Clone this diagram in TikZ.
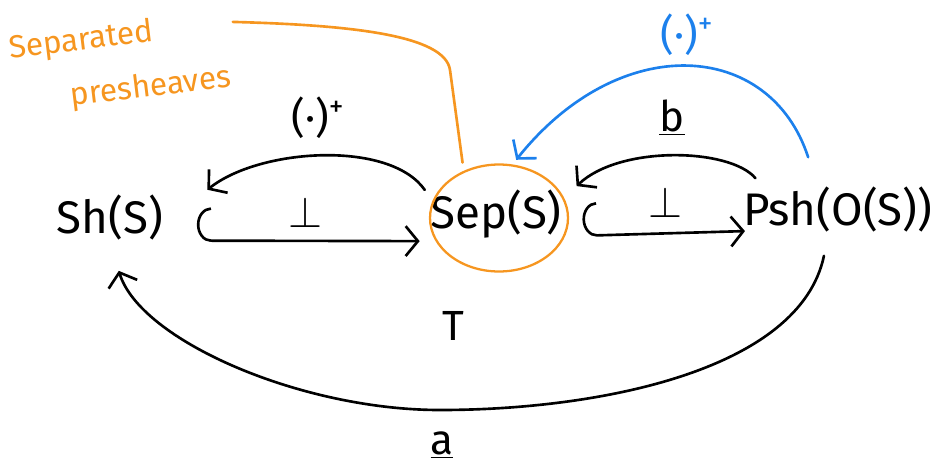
\documentclass[tikz,border=0pt]{standalone}
\usepackage{fontspec}
\setmainfont{Fira Sans}
\usetikzlibrary{arrows.meta,shapes.geometric}
\definecolor{penorange}{RGB}{246,150,32}
\definecolor{penblue}{RGB}{28,128,236}

\begin{document}
\begin{tikzpicture}[x=0.02cm, y=-0.02cm, >={Straight Barb[length=7pt,width=17pt]}, line cap=round, line join=round,
    pen/.style={line width=1.5pt},
    obj/.style={font=\fontsize{26}{30}\selectfont, inner sep=5pt},
    lab/.style={font=\fontsize{24}{28}\selectfont, inner sep=1pt},
    note/.style={font=\fontsize{18}{31}\selectfont, text=penorange, align=left, rotate=7, inner sep=2pt},
    ring/.style={ellipse, draw=penorange, line width=1.3pt, minimum width=2.76cm, minimum height=2.14cm, inner sep=0pt},
    hook/.style={pen, {Hooks[right,length=8pt,width=38pt]}->}]
    \useasboundingbox (0,0) rectangle (945,470);
    \node[obj] (sh) at (110,218) {Sh(S)};
    \node[obj] (sep) at (496,214) {Sep(S)};
    \node[obj] (psh) at (838,210) {Psh(O(S))};
    \node[ring] (sepring) at (499,218) {};
    \node[note] (sepnote) at (120,64) {Separated\\\hspace{1.1cm}presheaves};
    \node[lab] (plusl) at (318,118) {(·)\textsuperscript{+}};
    \node[lab] (perpl) at (305,212) {$\perp$};
    \node[lab] (perpr) at (665,202) {$\perp$};
    \node[lab] (bl) at (672,118) {\underline{b}};
    \node[lab, text=penblue] (plusb) at (687,35) {(·)\textsuperscript{+}};
    \node[lab] (tl) at (453,326) {T};
    \node[lab] (al) at (442,445) {\underline{a}};
    \draw[pen,->] ([xshift=-8pt]sepring.155) .. controls (390,140) and (260,148) .. ([xshift=20pt,yshift=-2pt]sh.north east);
    \draw[hook] ([xshift=14pt]sh.-20) -- ([xshift=-9pt]sepring.200);
    \draw[pen,->] ([xshift=12pt]psh.north west) .. controls (730,148) and (620,145) .. ([xshift=8pt,yshift=5pt]sepring.20);
    \draw[hook] ([xshift=10pt]sepring.-15) -- ([xshift=6pt,yshift=-12pt]psh.west);
    \draw[pen,->] ([xshift=-8pt,yshift=-8pt]psh.south) .. controls (800,370) and (600,410) .. (440,410) .. controls (300,410) and (140,340) .. ([xshift=5pt,yshift=-12pt]sh.south);
    \draw[pen,->,penblue] ([xshift=-17pt,yshift=12pt]psh.north) .. controls (770,40) and (620,30) .. ([yshift=3pt]sepring.72);
    \draw[pen,penorange] ([xshift=4pt,yshift=-10pt]sepnote.north east) .. controls (350,25) and (445,35) .. (450,70) -- ([yshift=5pt]sepring.128);
\end{tikzpicture}
\end{document}
